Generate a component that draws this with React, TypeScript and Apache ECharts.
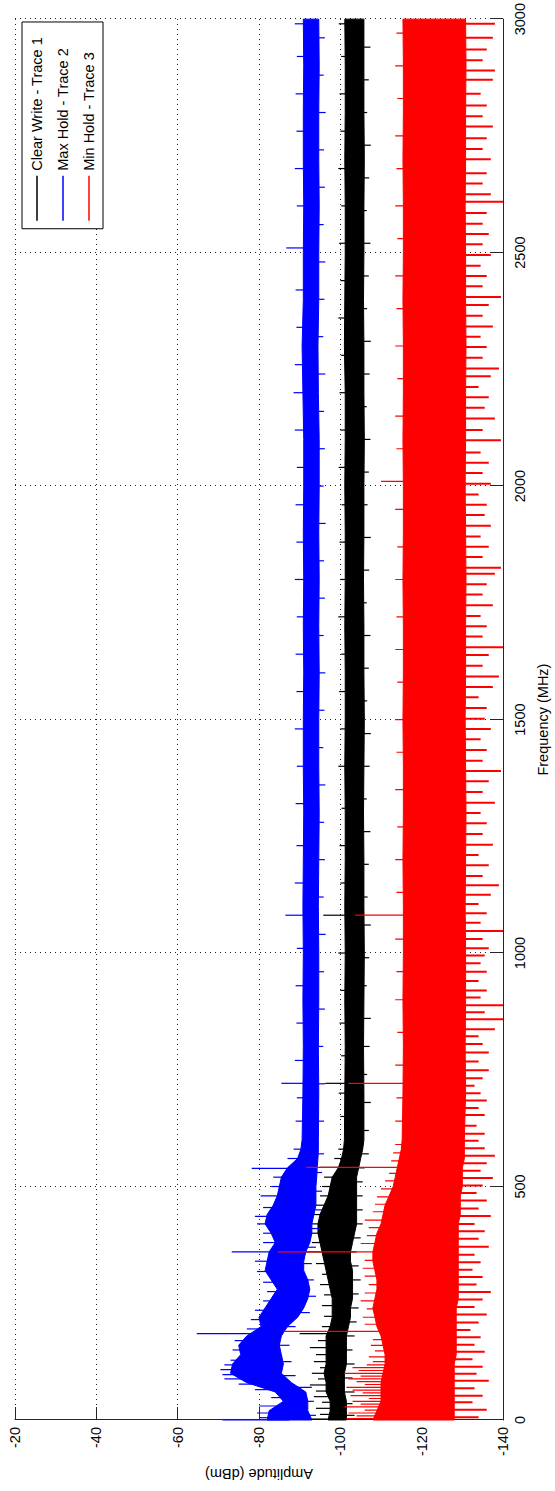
import React, { useEffect, useRef } from "react";
import * as echarts from "echarts";

// ---- frequency grid for the core band envelopes (MHz) ----
const FREQ = [0,20,40,60,80,100,120,140,160,180,200,220,240,260,280,300,320,340,360,380,400,420,440,460,480,500,520,540,560,580,600,
  700,800,900,1000,1100,1200,1300,1400,1500,1600,1700,1800,1900,2000,2100,2200,2300,2400,2500,2600,2700,2800,2900,3000];

// Clear Write - Trace 1 (black) core band
const BLACK_HI = [-97,-97.5,-97.5,-96.5,-96.5,-96,-96.5,-96.5,-96.5,-96.5,-97.5,-98,-98,-98,-97.5,-97,-96.5,-96,-95.5,-95,-94.5,-94.5,-95,-96,-97,-97.5,-98,-99.5,-100.3,-100.8,-101,
  -101.1,-101.2,-101.1,-101.2,-101.1,-101.2,-101.2,-101.1,-101.2,-101.2,-101.1,-101.2,-101.2,-101.1,-101.2,-101.2,-101,-101.1,-101.2,-101.2,-101.1,-101.2,-101.2,-101.1];
const BLACK_LO = [-101.5,-101.5,-101.5,-101,-101,-101,-101.5,-101.5,-101.5,-101.5,-102,-102.5,-102.5,-103,-103,-103,-103,-102.5,-102.5,-103,-103.5,-104,-104,-104,-104,-104,-104,-104.5,-105,-105.5,-105.8,
  -105.8,-105.7,-105.8,-105.9,-105.8,-105.8,-105.7,-105.8,-105.9,-105.8,-105.8,-105.7,-105.8,-105.8,-105.9,-105.8,-105.8,-105.7,-105.8,-105.8,-105.9,-105.8,-105.8,-105.8];

// Max Hold - Trace 2 (blue) core band
const BLUE_HI = [-82,-82.5,-86,-84,-77,-73,-73.5,-75.5,-75,-77,-80.5,-80,-81.5,-83,-84.5,-83,-81.5,-82,-82.5,-84,-83,-81.5,-82,-83.5,-84.5,-85,-85.5,-87,-89.5,-90.3,-90.6,
  -90.8,-90.9,-90.8,-90.9,-90.8,-90.9,-91,-90.9,-90.9,-91,-90.9,-91,-90.9,-91,-91,-90.8,-90.6,-90.9,-90.9,-91,-90.9,-90.9,-91,-90.9];
const BLUE_LO = [-93,-92,-92,-91.5,-88,-85.5,-86,-85.5,-85,-85.5,-87,-89.5,-91,-92,-92.5,-92,-91,-91,-91.5,-92.5,-93,-93,-93.5,-94,-94,-94,-94.2,-94.3,-94.5,-94.6,-94.6,
  -94.7,-94.6,-94.7,-94.7,-94.6,-94.7,-94.8,-94.7,-94.7,-94.8,-94.7,-94.8,-94.7,-94.8,-94.8,-94.6,-94.5,-94.7,-94.7,-94.8,-94.7,-94.7,-94.8,-94.7];

// Min Hold - Trace 3 (red) core band
const RED_HI = [-108,-109,-110,-110,-110,-110.5,-111,-111,-110.5,-110,-109,-108.5,-108,-108.5,-109,-109,-108.5,-108,-108,-108.5,-109,-110,-110.5,-111,-112,-113,-113.5,-114,-114.5,-115,-115.2,
  -115.4,-115.5,-115.4,-115.5,-115.5,-115.4,-115.5,-115.5,-115.4,-115.5,-115.5,-115.4,-115.5,-115.5,-115.4,-115.5,-115.5,-115.4,-115.5,-115.5,-115.4,-115.5,-115.5,-115.4];
const RED_LO = [-128,-128,-128,-128,-128,-128,-128,-128.5,-128.5,-128.5,-128.5,-128.5,-128.5,-129,-129,-129,-129,-129,-129,-129,-129,-129,-129.5,-129.5,-129.5,-130,-130,-130,-130.5,-130.5,-130.5,
  -130.8,-130.7,-130.8,-130.8,-130.7,-130.8,-130.9,-130.8,-130.7,-130.8,-130.8,-130.9,-130.8,-130.7,-130.8,-130.8,-130.9,-130.8,-130.8,-130.7,-130.8,-130.8,-130.9,-130.8];

// ---- individual excursions beyond the core bands: [MHz, dBm] ----
const BLACK_UP = [[2,-92],[12,-95],[25,-94],[38,-95.5],[50,-93.5],[62,-94],[75,-92.5],[88,-94.5],[100,-93],[112,-95],[125,-93.5],[140,-94],[155,-92.5],[170,-94.5],[185,-90],[200,-95.5],[222,-96],[245,-95.5],[268,-96],[290,-95],[312,-95.5],[335,-94],[360,-91],[380,-93],[400,-92.5],[420,-92],[440,-92.5],[460,-94],[480,-95],[500,-95.5],[520,-96],[541,-95],[560,-98.5],[580,-99.5],
  [650,-100],[700,-99.6],[721,-96.3],[780,-100.2],[850,-99.8],[920,-100],[1000,-99.5],[1081,-95.8],[1150,-100],[1230,-99.8],[1310,-100.3],[1400,-99.5],[1480,-100],[1560,-99.7],[1640,-100.2],[1720,-99.5],[1800,-100],[1880,-99.8],[1960,-100.3],[2040,-99.6],[2120,-100],[2200,-99.8],[2280,-100.2],[2360,-99.5],[2440,-100],[2520,-99.7],[2600,-100.2],[2680,-99.5],[2760,-100],[2840,-99.8],[2920,-100.2],[2990,-99.6]];
const BLACK_DOWN = [[10,-103.5],[35,-103],[60,-103.5],[90,-103],[120,-103.5],[150,-103],[180,-103.5],[210,-104],[240,-104.5],[270,-104.5],[300,-105],[330,-104.5],[360,-104],[390,-105],[420,-105.5],[450,-105.5],[480,-105.5],[510,-105.5],[540,-106],[570,-107],
  [620,-107],[680,-107.5],[740,-106.6],[800,-107.2],[860,-107.5],[930,-106.5],[990,-107.1],[1060,-107.5],[1120,-106.7],[1190,-107],[1260,-107.4],[1330,-106.5],[1400,-107.2],[1470,-107.5],[1540,-106.6],[1610,-107],[1680,-107.4],[1750,-106.5],[1820,-107.1],[1890,-107.5],[1960,-106.7],[2030,-107],[2100,-107.4],[2170,-106.5],[2240,-107.2],[2310,-107.5],[2380,-106.6],[2450,-107],[2520,-107.4],[2590,-106.5],[2660,-107.1],[2730,-107.5],[2800,-106.6],[2870,-107],[2940,-107.4]];

const BLUE_UP = [[0,-71],[5,-80],[15,-79.5],[30,-80],[48,-83],[65,-79],[77,-75],[88,-71.5],[97,-71],[108,-70.5],[118,-71.5],[128,-73],[150,-73.5],[170,-74],[185,-64.7],[195,-77],[215,-78],[235,-79],[255,-81],[275,-82],[295,-81],[318,-79.5],[340,-79],[360,-73.3],[380,-81],[400,-81],[420,-79.5],[436,-79],[455,-81],[480,-80.4],[500,-83],[520,-83.5],[539,-78.2],[560,-87],[580,-88.5],
  [640,-89],[690,-89.3],[721,-85.5],[770,-88.8],[850,-89.2],[930,-89],[1010,-89.3],[1081,-86.5],[1150,-88.8],[1230,-89.2],[1320,-89],[1400,-89.3],[1480,-88.8],[1560,-89.2],[1640,-89],[1720,-89.3],[1800,-88.8],[1880,-89.2],[1960,-89],[2040,-89.3],[2120,-88.8],[2200,-88.5],[2260,-88.8],[2340,-89.2],[2420,-89],[2510,-86.7],[2600,-89.3],[2680,-88.8],[2760,-89.2],[2840,-89],[2920,-89.3],[2990,-88.8]];
const BLUE_DOWN = [[10,-94],[40,-93.5],[70,-93],[95,-89],[125,-88],[160,-87.5],[200,-89],[230,-92.5],[265,-94],[300,-93.5],[335,-93],[370,-94],[410,-95],[450,-95.5],[490,-95.5],[530,-95.5],[570,-96],
  [640,-96],[720,-96.3],[800,-95.8],[880,-96.2],[960,-96],[1040,-96.4],[1120,-95.9],[1200,-96.2],[1280,-96],[1360,-96.3],[1440,-95.8],[1520,-96.1],[1600,-96.3],[1680,-95.9],[1760,-96.2],[1840,-96],[1920,-96.4],[2000,-95.9],[2080,-96.2],[2160,-96],[2240,-96.3],[2320,-95.8],[2400,-96.1],[2480,-96.3],[2560,-95.9],[2640,-96.2],[2720,-96],[2800,-96.4],[2880,-95.9],[2960,-96.2]];

const RED_UP = [[3,-101.5],[9,-104],[15,-102],[21,-106],[28,-101],[34,-105],[40,-103],[46,-107],[52,-102.5],[58,-105.5],[64,-103],[70,-101.5],[76,-106],[82,-104],[88,-102],[94,-105],[100,-101],[106,-104.5],[112,-103],[118,-106.5],[125,-108],[135,-107],[148,-108.5],[160,-107.5],[172,-108],
  [190,-86],[205,-106],[220,-105.5],[238,-106.5],[255,-105],[272,-106],[290,-107],[308,-106],[325,-105.5],[342,-106],[360,-84.6],[378,-105],[395,-106.5],[412,-107],[428,-106],[446,-108],[462,-108.5],[478,-109],[495,-110],[512,-111],[528,-112],[541,-91.6],[555,-112.5],[572,-113],[590,-113.5],
  [640,-113.5],[690,-113.8],[721,-102],[760,-113.5],[830,-114],[900,-113.5],[960,-113.8],[1030,-113.5],[1081,-103.6],[1130,-113.8],[1200,-113.5],[1270,-114],[1350,-113.5],[1430,-113.8],[1500,-113.5],[1580,-114],[1650,-113.5],[1720,-113.8],[1800,-113.5],[1870,-114],[1950,-113.5],[2010,-110],[2080,-113.8],[2150,-113.5],[2230,-114],[2300,-113.5],[2380,-113.8],[2450,-113.5],[2530,-114],[2600,-113.5],[2680,-113.8],[2750,-113.5],[2830,-114],[2900,-113.5],[2970,-113.8]];
const RED_DOWN = [[6,-134],[22,-136],[38,-132.5],[52,-135],[68,-133],[84,-136.5],[99,-133.5],[114,-135],[130,-132.5],[146,-135.5],[161,-133],[177,-134.5],[193,-132],[209,-134],[226,-136],[242,-133],[258,-135],[274,-137],[290,-133.5],[306,-135],[322,-132.5],[338,-134.5],[354,-133],[371,-136.5],[388,-134],[404,-135.5],[420,-133],[437,-137],[453,-134],[470,-136],[486,-133.5],[502,-135],[518,-137.5],[534,-134.5],[550,-136],[566,-138],[582,-135.5],[598,-134],
  [613,-135.5],[630,-133.5],[653,-135.5],[668,-134],[684,-136],[700,-134.5],[716,-133],[732,-135],[749,-136.5],[768,-134],[787,-136.5],[805,-135],[822,-134],[837,-138],[858,-140],[873,-135.5],[888,-140],[905,-134.5],[920,-136],[940,-134],[960,-136],[978,-134.5],[995,-135.5],[1010,-136.5],[1030,-135],[1047,-140],[1065,-134.5],[1085,-136],
  [1105,-134],[1125,-137],[1145,-139],[1165,-135],[1188,-136.5],[1210,-134],[1232,-137.5],[1255,-135],[1278,-136],[1300,-134.5],[1322,-138],[1345,-135],[1368,-136.5],[1390,-139.5],[1412,-135],[1435,-136],[1458,-134.5],[1480,-137],[1502,-135.5],[1525,-136],[1548,-134],[1570,-137.5],[1592,-139],[1615,-135],[1638,-136.5],[1655,-140],[1678,-135],[1700,-136],[1722,-134.5],[1745,-137.5],[1768,-135],[1790,-136],[1812,-138],[1825,-139.5],[1848,-135],[1870,-136.5],[1892,-134.5],[1915,-137],[1938,-135.5],[1960,-136],[1982,-134],[2005,-137],[2028,-135],[2050,-136.5],[2072,-134.5],[2098,-139.5],[2120,-135],[2145,-138],[2168,-135.5],[2190,-136.5],[2212,-134],[2235,-137],[2252,-139],[2275,-135],[2298,-136],[2320,-134.5],[2342,-137.5],[2365,-135],[2388,-136.5],[2405,-139.5],[2428,-135],[2450,-136],[2472,-134.5],[2495,-137],[2518,-135],[2540,-136.5],[2562,-135],[2585,-136],[2609,-140],[2625,-137],[2648,-135],[2670,-136],[2700,-137],[2722,-135],[2745,-136],[2770,-137.5],[2792,-135],[2815,-136],[2840,-134.5],[2870,-137.5],[2890,-138],[2912,-135],[2935,-136],[2960,-137.5],[2990,-138]];

const LEGEND_NAMES = ["Clear Write - Trace 1", "Max Hold - Trace 2", "Min Hold - Trace 3"];
const FREQ_TICK_INTERVAL = 500;
const AMP_TICK_INTERVAL = 20;

const FONT = "'Liberation Sans', Arial, Helvetica, sans-serif";
const FS = 14.5;

function interp(f: number, ys: number[]) {
  for (let i = 1; i < FREQ.length; i++) {
    if (f <= FREQ[i]) {
      const t = (f - FREQ[i - 1]) / (FREQ[i] - FREQ[i - 1]);
      return ys[i - 1] + t * (ys[i] - ys[i - 1]);
    }
  }
  return ys[ys.length - 1];
}

function bandSeries(id: string, hi: number[], lo: number[], color: string) {
  return {
    type: "custom",
    name: id,
    coordinateSystem: "cartesian2d",
    silent: true,
    data: [[FREQ[0], hi[0]]],
    renderItem: (_p: any, api: any) => {
      const pts: number[][] = [];
      for (let i = 0; i < FREQ.length; i++) pts.push(api.coord([FREQ[i], hi[i]]));
      for (let i = FREQ.length - 1; i >= 0; i--) pts.push(api.coord([FREQ[i], lo[i]]));
      return { type: "polygon", shape: { points: pts }, style: { fill: color, stroke: color, lineWidth: 1 } };
    },
  };
}

function spikeSeries(id: string, spikes: number[][], hi: number[], lo: number[], color: string, width: number) {
  return {
    type: "custom",
    name: id,
    coordinateSystem: "cartesian2d",
    silent: true,
    data: spikes,
    renderItem: (_p: any, api: any) => {
      const f = api.value(0);
      const v = api.value(1);
      const base = (interp(f, hi) + interp(f, lo)) / 2;
      const a = api.coord([f, base]);
      const b = api.coord([f, v]);
      return { type: "line", shape: { x1: a[0], y1: a[1], x2: b[0], y2: b[1] }, style: { stroke: color, lineWidth: width } };
    },
  };
}

export default function App() {
  const ref = useRef<HTMLDivElement>(null);
  useEffect(() => {
    if (!ref.current) return;
    const chart = echarts.init(ref.current, undefined, { renderer: "svg" });
    const axisColor = "#262626";
    chart.setOption({
      animation: false,
      backgroundColor: "#ffffff",
      textStyle: { fontFamily: FONT },
      grid: { left: 71, right: 16, top: 15, bottom: 49, containLabel: false },
      legend: {
        data: LEGEND_NAMES,
        orient: "vertical",
        right: 22,
        top: 22,
        padding: [7, 15, 6, 8],
        icon: "rect",
        itemWidth: 45,
        itemHeight: 1.5,
        itemGap: 10,
        backgroundColor: "#ffffff",
        borderColor: "#000000",
        borderWidth: 1,
        borderRadius: 0,
        textStyle: { fontFamily: FONT, fontSize: FS, lineHeight: 16, color: "#000" },
      },
      xAxis: {
        type: "value",
        min: 0,
        max: 3000,
        interval: FREQ_TICK_INTERVAL,
        name: "Frequency (MHz)",
        nameLocation: "middle",
        nameGap: 32,
        nameTextStyle: { fontFamily: FONT, fontSize: FS, color: "#000" },
        axisLine: { show: true, onZero: false, lineStyle: { color: axisColor, width: 1 } },
        axisTick: { show: true, inside: true, length: 13, lineStyle: { color: axisColor } },
        axisLabel: { fontFamily: FONT, fontSize: FS, color: "#000", margin: 9, formatter: (v: number) => String(v) },
        splitLine: { show: true, lineStyle: { color: "#222", width: 1, type: [1, 4] } },
      },
      yAxis: {
        type: "value",
        min: -140,
        max: -20,
        interval: AMP_TICK_INTERVAL,
        name: "Amplitude (dBm)",
        nameLocation: "middle",
        nameGap: 41,
        nameTextStyle: { fontFamily: FONT, fontSize: FS, color: "#000" },
        axisLine: { show: true, onZero: false, lineStyle: { color: axisColor, width: 1 } },
        axisTick: { show: true, inside: true, length: 13, lineStyle: { color: axisColor } },
        axisLabel: { fontFamily: FONT, fontSize: FS, color: "#000", margin: 7, formatter: (v: number) => String(v) },
        splitLine: { show: true, lineStyle: { color: "#222", width: 1, type: [1, 4] } },
      },
      series: [
        bandSeries("t1-band", BLACK_HI, BLACK_LO, "#000000"),
        spikeSeries("t1-up", BLACK_UP, BLACK_HI, BLACK_LO, "#000000", 1.2),
        spikeSeries("t1-down", BLACK_DOWN, BLACK_HI, BLACK_LO, "#000000", 1.2),
        bandSeries("t2-band", BLUE_HI, BLUE_LO, "#0000ff"),
        spikeSeries("t2-up", BLUE_UP, BLUE_HI, BLUE_LO, "#0000ff", 1.2),
        spikeSeries("t2-down", BLUE_DOWN, BLUE_HI, BLUE_LO, "#0000ff", 1.2),
        bandSeries("t3-band", RED_HI, RED_LO, "#ff0000"),
        spikeSeries("t3-up", RED_UP, RED_HI, RED_LO, "#ff0000", 1.2),
        spikeSeries("t3-down", RED_DOWN, RED_HI, RED_LO, "#ff0000", 2),
        { type: "line", name: LEGEND_NAMES[0], data: [], symbol: "none", showSymbol: false, lineStyle: { color: "#000000", width: 1 }, itemStyle: { color: "#000000" } },
        { type: "line", name: LEGEND_NAMES[1], data: [], symbol: "none", showSymbol: false, lineStyle: { color: "#0000ff", width: 1 }, itemStyle: { color: "#0000ff" } },
        { type: "line", name: LEGEND_NAMES[2], data: [], symbol: "none", showSymbol: false, lineStyle: { color: "#ff0000", width: 1 }, itemStyle: { color: "#ff0000" } },
      ],
    });
    return () => chart.dispose();
  }, []);

  return (
    <div style={{ position: "fixed", left: 0, top: 0, width: 555, height: 1491, background: "#fff", overflow: "hidden" }}>
      <div
        ref={ref}
        style={{
          position: "absolute",
          left: 0,
          top: 1491,
          width: 1491,
          height: 555,
          transformOrigin: "0 0",
          transform: "rotate(-90deg)",
        }}
      />
    </div>
  );
}
